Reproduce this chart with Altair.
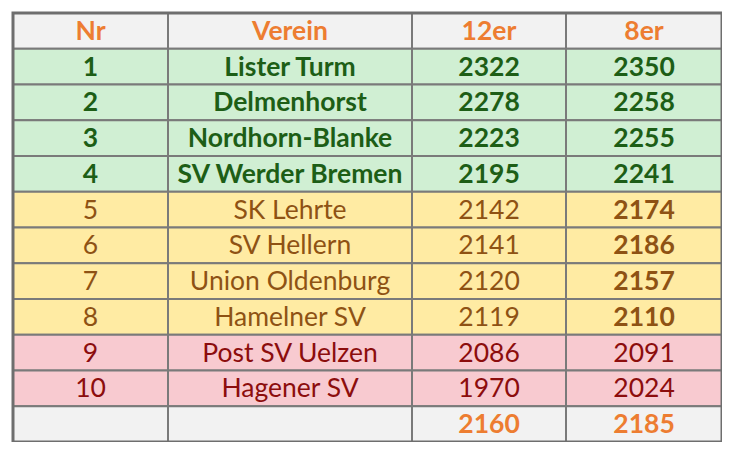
import altair as alt
import pandas as pd

# ---- data ----
headers = ["Nr", "Verein", "12er", "8er"]
nr = ["1", "2", "3", "4", "5", "6", "7", "8", "9", "10"]
verein = ["Lister Turm", "Delmenhorst", "Nordhorn-Blanke", "SV Werder Bremen",
          "SK Lehrte", "SV Hellern", "Union Oldenburg", "Hamelner SV",
          "Post SV Uelzen", "Hagener SV"]
score12 = [2322, 2278, 2223, 2195, 2142, 2141, 2120, 2119, 2086, 1970]
score8 = [2350, 2258, 2255, 2241, 2174, 2186, 2157, 2110, 2091, 2024]
total12 = 2160
total8 = 2185
zone = ["up", "up", "up", "up", "mid", "mid", "mid", "mid", "down", "down"]

# ---- layout / style ----
col_widths = [155, 244, 154, 156]
edges = [0]
for w in col_widths:
    edges.append(edges[-1] + w)
TOTAL_W = edges[-1]
N_ROWS = 12

bg = {"head": "#f2f2f2", "up": "#d0efd3", "mid": "#ffeba3", "down": "#f8cad0"}
fg = {"head": "#ed7d31", "up": "#1d5e16", "mid": "#8e5214", "down": "#8c0d0d"}

cells = []
def add(row, col, text, kind, bold):
    cells.append(dict(row=row, row2=row + 1, rowc=row + 0.5,
                      x=edges[col], x2=edges[col + 1],
                      xc=(edges[col] + edges[col + 1]) / 2,
                      text=text, bg=bg[kind], fg=fg[kind], bold=bold))

for c, h in enumerate(headers):
    add(0, c, h, "head", True)
for i in range(len(nr)):
    z = zone[i]
    r = i + 1
    allbold = z == "up"
    add(r, 0, nr[i], z, allbold)
    add(r, 1, verein[i], z, allbold)
    add(r, 2, str(score12[i]), z, allbold)
    add(r, 3, str(score8[i]), z, allbold or z == "mid")
add(11, 0, "", "head", True)
add(11, 1, "", "head", True)
add(11, 2, str(total12), "head", True)
add(11, 3, str(total8), "head", True)

df = pd.DataFrame(cells)

xs = alt.Scale(domain=[0, TOTAL_W], nice=False, zero=False)
ys = alt.Scale(domain=[0, N_ROWS], nice=False, zero=False, reverse=True)

rects = alt.Chart(df).mark_rect(stroke="#7a7a7a", strokeWidth=2).encode(
    x=alt.X("x:Q", scale=xs, axis=None),
    x2="x2:Q",
    y=alt.Y("row:Q", scale=ys, axis=None),
    y2="row2:Q",
    fill=alt.Fill("bg:N", scale=None),
)

outer = alt.Chart(pd.DataFrame([{"x": 0, "x2": TOTAL_W, "y": 0, "y2": N_ROWS}])).mark_rect(
    fill=None, stroke="#6e6e6e", strokeWidth=3
).encode(
    x=alt.X("x:Q", scale=xs, axis=None), x2="x2:Q",
    y=alt.Y("y:Q", scale=ys, axis=None), y2="y2:Q",
)

def texts(bold):
    return alt.Chart(df).transform_filter(
        alt.datum.bold == bold
    ).mark_text(
        font="Lato", fontSize=26.5, fontWeight="bold" if bold else "normal",
        baseline="middle", align="center", dy=1
    ).encode(
        x=alt.X("xc:Q", scale=xs, axis=None),
        y=alt.Y("rowc:Q", scale=ys, axis=None),
        text="text:N",
        color=alt.Color("fg:N", scale=None),
    )

chart = alt.layer(rects, outer, texts(True), texts(False)).properties(
    width=TOTAL_W, height=429,
    padding={"left": 5, "top": 5, "right": 0, "bottom": 0},
    autosize=alt.AutoSizeParams(type="none"),
    background="white",
).configure_view(stroke=None)

chart.save("out.html", embed_options={"renderer": "svg", "actions": False})
